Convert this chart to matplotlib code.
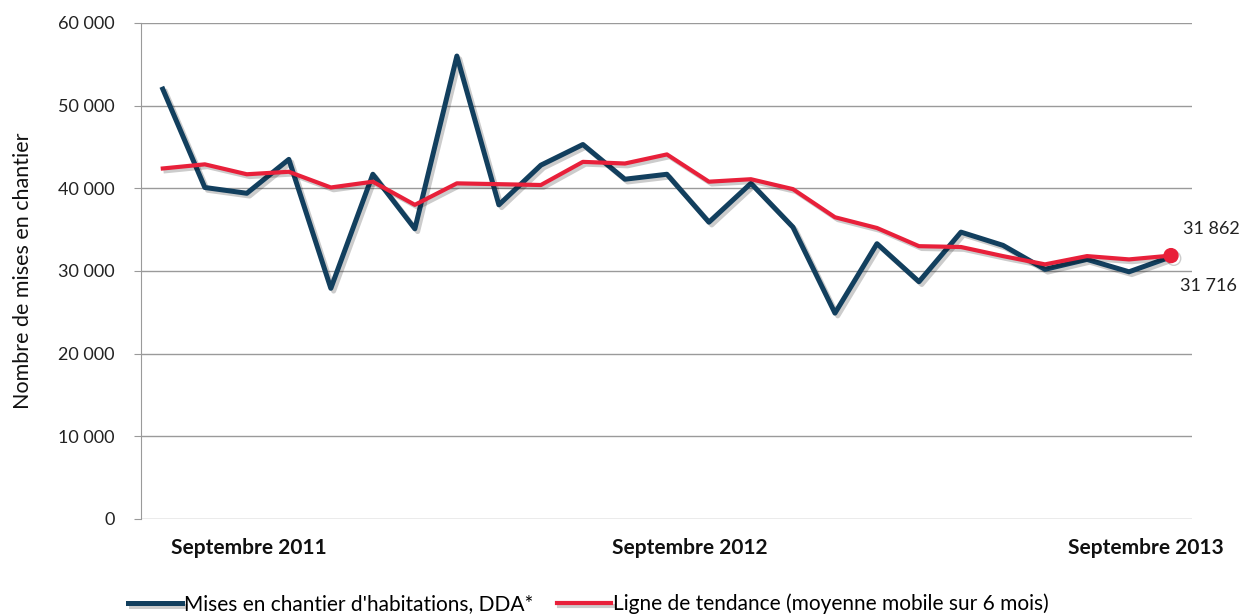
import matplotlib
matplotlib.use('Agg')
import matplotlib.pyplot as plt
import matplotlib.patheffects as pe
import numpy as np

# monthly values, Septembre 2011 -> Septembre 2013
mises_en_chantier = [52000, 40100, 39400, 43500, 27900, 41700, 35100, 56000, 38000,
                     42800, 45300, 41100, 41700, 35900, 40600, 35300, 24900, 33300,
                     28700, 34700, 33100, 30200, 31400, 29900, 31716]
tendance = [42400, 42900, 41700, 42000, 40100, 40800, 38000, 40600, 40500,
            40400, 43200, 43000, 44100, 40800, 41100, 39900, 36500, 35200,
            33000, 32900, 31800, 30800, 31800, 31400, 31862]
x_labels = ['Septembre 2011', 'Septembre 2012', 'Septembre 2013']
y_ticks = [0, 10000, 20000, 30000, 40000, 50000, 60000]

blue = '#123f5e'
red = '#e8203a'
grid_col = '#9a9a9a'
font = 'Lato'

plt.rcParams['font.family'] = [font, 'DejaVu Sans']

def fmt(v):
    # french style thousands separator
    return f"{v:,}".replace(',', ' ')

fig = plt.figure(figsize=(12.43, 6.16), dpi=100)
ax = fig.add_axes([0.1134, 0.1575, 0.8456, 0.8052])

x = np.arange(len(mises_en_chantier))
shadow = [pe.SimpleLineShadow(offset=(2, -2), shadow_color='k', alpha=0.2), pe.Normal()]

ax.plot(x, mises_en_chantier, color=blue, linewidth=3.6,
        label="Mises en chantier d'habitations, DDA*", path_effects=shadow, zorder=3)
ax.plot(x, tendance, color=red, linewidth=3.0,
        label='Ligne de tendance (moyenne mobile sur 6 mois)', path_effects=shadow, zorder=4)
ax.plot(x[-1], tendance[-1], 'o', color=red, markersize=10, zorder=5,
        path_effects=shadow)

# end labels
ax.annotate(fmt(tendance[-1]), (x[-1], tendance[-1]),
            xytext=(29, 19), textcoords='offset points', ha='center', va='center',
            fontsize=13, color='#222222')
ax.annotate(fmt(mises_en_chantier[-1]), (x[-1], mises_en_chantier[-1]),
            xytext=(27, -21), textcoords='offset points', ha='center', va='center',
            fontsize=13, color='#222222')

ax.set_xlim(-0.52, 24.5)
ax.set_ylim(0, 60000)
ax.set_yticks(y_ticks)
ax.set_yticklabels([fmt(v) for v in y_ticks], fontsize=13, color='#222222')
ax.yaxis.grid(True, color=grid_col, linewidth=1)
ax.set_axisbelow(True)
ax.tick_params(axis='y', length=5, color=grid_col, pad=14)

# x labels sit at fixed places under the axis
ax.set_xticks([2.05, 12.55, 23.4])
ax.set_xticklabels(x_labels, fontsize=15, fontweight='bold', color='#111111')
ax.tick_params(axis='x', length=0, pad=14)

for s in ['top', 'right', 'bottom']:
    ax.spines[s].set_visible(False)
ax.spines['left'].set_color(grid_col)

ax.set_ylabel('Nombre de mises en chantier', fontsize=15.5, color='#111111', labelpad=18)

fig.legend(loc='lower left', bbox_to_anchor=(0.088, -0.028), ncol=2, frameon=False,
           fontsize=15, handlelength=2.6, handletextpad=0.1, columnspacing=1.1)

fig.savefig('out.png', dpi=100)
